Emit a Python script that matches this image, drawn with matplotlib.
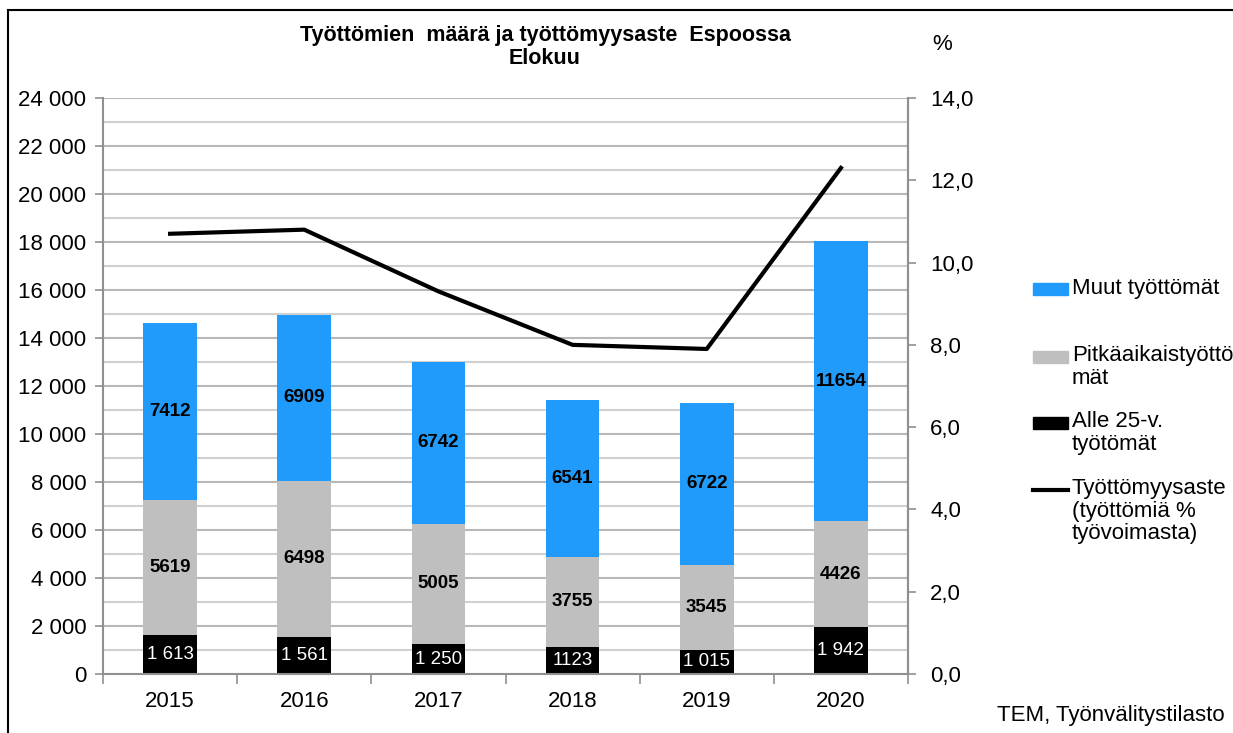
import numpy as np
import matplotlib
matplotlib.use('Agg')
from matplotlib import pyplot as plt
from matplotlib.patches import Rectangle
from matplotlib.lines import Line2D

plt.rcParams['font.family'] = ['Liberation Sans', 'DejaVu Sans']

years = ['2015', '2016', '2017', '2018', '2019', '2020']
alle25 = [1613, 1561, 1250, 1123, 1015, 1942]
pitka = [5619, 6498, 5005, 3755, 3545, 4426]
muut = [7412, 6909, 6742, 6541, 6722, 11654]
aste = [10.7, 10.8, 9.3, 8.0, 7.9, 12.3]
alle25_labels = ['1 613', '1 561', '1 250', '1123', '1 015', '1 942']

blue = '#219BFB'
grey = '#BFBFBF'
fs = 16

fig = plt.figure(figsize=(12.33, 7.33), dpi=100)
ax = fig.add_axes([103/1233, 1-674/733, (908-103)/1233, (674-98)/733])
x = np.arange(len(years))
w = 0.4

a = np.array(alle25)
p = np.array(pitka)
m = np.array(muut)

ax.set_axisbelow(True)
for yy in range(1000, 24001, 1000):
    ax.axhline(yy, color='#b8b8b8' if yy % 2000 == 0 else '#d0d0d0', lw=1.5, zorder=0)

ax.bar(x, a, w, color='black', zorder=2)
ax.bar(x, p, w, bottom=a, color=grey, zorder=2)
ax.bar(x, m, w, bottom=a+p, color=blue, zorder=2)

for i in range(len(years)):
    ax.text(x[i], a[i]/2, alle25_labels[i], ha='center', va='center', color='white', fontsize=13.5)
    ax.text(x[i], a[i]+p[i]/2, str(pitka[i]), ha='center', va='center', color='black', fontsize=13.5, fontweight='bold')
    ax.text(x[i], a[i]+p[i]+m[i]/2, str(muut[i]), ha='center', va='center', color='black', fontsize=13.5, fontweight='bold')

ax.set_xlim(-0.5, 5.5)
ax.set_ylim(0, 24000)
ax.set_yticks(range(0, 24001, 2000))
ax.set_yticklabels(['{:,}'.format(v).replace(',', ' ') for v in range(0, 24001, 2000)], fontsize=fs)
ax.set_xticks(x)
ax.set_xticklabels(years, fontsize=fs)
ax.tick_params(axis='x', length=0, pad=12)
ax.set_xticks(np.arange(-0.5, 6, 1), minor=True)
ax.tick_params(axis='x', which='minor', length=7, color='#909090', width=1.2)
ax.tick_params(axis='y', length=6, color='#909090', width=1.2, pad=6)
ax.spines['top'].set_visible(False)
for s in ['left', 'bottom', 'right']:
    ax.spines[s].set_color('#909090')
    ax.spines[s].set_linewidth(1.5)

ax2 = ax.twinx()
ax2.plot(x, aste, color='black', lw=3, zorder=5)
ax2.set_ylim(0, 14)
ax2.set_yticks(np.arange(0, 14.1, 2))
ax2.set_yticklabels(['{:.1f}'.format(v).replace('.', ',') for v in np.arange(0, 14.1, 2)], fontsize=fs)
ax2.tick_params(axis='y', length=6, color='#909090', width=1.2, pad=10)
ax2.spines['top'].set_visible(False)
ax2.spines['left'].set_visible(False)
ax2.spines['bottom'].set_visible(False)
ax2.spines['right'].set_color('#909090')
ax2.spines['right'].set_linewidth(1.5)

fig.text(545/1233, 1-35/733, 'Työttömien  määrä ja työttömyysaste  Espoossa', ha='center', va='center',
         fontsize=15.5, fontweight='bold')
fig.text(545/1233, 1-59/733, 'Elokuu', ha='center', va='center', fontsize=15.5, fontweight='bold')
fig.text(942/1233, 1-45/733, '%', ha='center', va='center', fontsize=fs)
fig.text(997/1233, 1-716/733, 'TEM, Työnvälitystilasto', ha='left', va='center', fontsize=fs)

# legend drawn by hand
lx0, lx1, tx = 1033/1233, 1068/1233, 1072/1233
fig.add_artist(Rectangle((lx0, 1-295/733), lx1-lx0, 12/733, transform=fig.transFigure, color=blue))
fig.text(tx, 1-289/733, 'Muut työttömät', va='center', fontsize=fs)
fig.add_artist(Rectangle((lx0, 1-363/733), lx1-lx0, 12/733, transform=fig.transFigure, color=grey))
fig.text(tx, 1-345/733, 'Pitkäaikaistyöttö\nmät', va='top', fontsize=fs, linespacing=1.1)
fig.add_artist(Rectangle((lx0, 1-429/733), lx1-lx0, 12/733, transform=fig.transFigure, color='black'))
fig.text(tx, 1-411/733, 'Alle 25-v.\ntyötömät', va='top', fontsize=fs, linespacing=1.1)
fig.add_artist(Line2D([lx0, lx1], [1-490/733, 1-490/733], transform=fig.transFigure, color='black', lw=3))
fig.text(tx, 1-478/733, 'Työttömyysaste\n(työttömiä %\ntyövoimasta)', va='top', fontsize=fs, linespacing=1.1)

# frame around the chart
fig.add_artist(Rectangle((8/1233, -0.1), 1.2, 1-10/733+0.1, transform=fig.transFigure,
                         fill=False, edgecolor='black', lw=1.5))

fig.savefig('out.png', dpi=100)
